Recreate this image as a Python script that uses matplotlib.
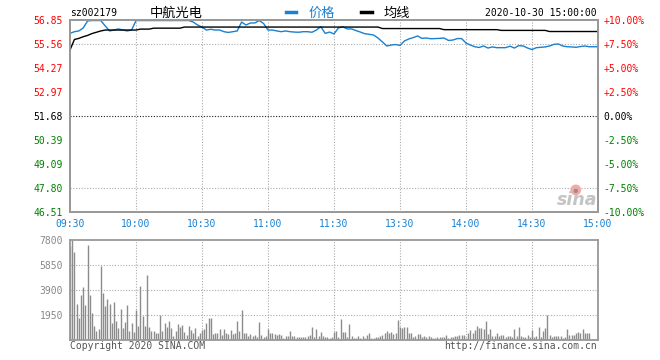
import numpy as np
import matplotlib
matplotlib.use('Agg')
import matplotlib.pyplot as plt

plt.rcParams['font.family'] = ['DejaVu Sans Mono', 'Noto Sans CJK SC']

# price every 2 minutes, 09:30 .. 11:30 | 13:00 .. 15:00 (241 minute slots)
price = [
    56.13, 56.22, 56.26, 56.42, 56.80, 56.82, 56.82, 56.82, 56.53, 56.26,
    56.31, 56.37, 56.31, 56.26, 56.31, 56.82, 56.82, 56.82, 56.82, 56.82,
    56.82, 56.82, 56.82, 56.82, 56.82, 56.82, 56.82, 56.82, 56.74, 56.58,
    56.47, 56.31, 56.35, 56.31, 56.31, 56.22, 56.18, 56.22, 56.26, 56.74,
    56.58, 56.69, 56.69, 56.82, 56.66, 56.31, 56.31, 56.26, 56.22, 56.26,
    56.22, 56.20, 56.19, 56.22, 56.22, 56.19, 56.31, 56.49, 56.13, 56.20,
    56.10, 56.42, 56.49, 56.37, 56.37, 56.28, 56.20, 56.11, 56.08, 56.04,
    55.88, 55.67, 55.45, 55.50, 55.53, 55.48, 55.72, 55.83, 55.90, 55.99,
    55.86, 55.88, 55.84, 55.85, 55.86, 55.88, 55.75, 55.77, 55.85, 55.85,
    55.61, 55.50, 55.41, 55.37, 55.45, 55.34, 55.40, 55.36, 55.36, 55.36,
    55.44, 55.34, 55.47, 55.45, 55.34, 55.26, 55.36, 55.38, 55.40, 55.45,
    55.54, 55.56, 55.45, 55.41, 55.40, 55.38, 55.42, 55.45, 55.41, 55.41,
    55.41,
]

avg_price = [
    55.23, 55.80, 55.86, 55.95, 56.02, 56.12, 56.19, 56.26, 56.31, 56.31,
    56.31, 56.31, 56.31, 56.31, 56.31, 56.31, 56.36, 56.36, 56.36, 56.41,
    56.41, 56.41, 56.41, 56.41, 56.41, 56.41, 56.47, 56.47, 56.47, 56.47,
    56.47, 56.47, 56.47, 56.47, 56.47, 56.47, 56.47, 56.47, 56.47, 56.47,
    56.47, 56.47, 56.47, 56.47, 56.47, 56.47, 56.47, 56.47, 56.47, 56.47,
    56.47, 56.47, 56.47, 56.47, 56.47, 56.47, 56.47, 56.47, 56.47, 56.47,
    56.47, 56.47, 56.47, 56.47, 56.47, 56.47, 56.47, 56.47, 56.47, 56.47,
    56.47, 56.39, 56.39, 56.39, 56.39, 56.39, 56.39, 56.39, 56.39, 56.39,
    56.39, 56.39, 56.39, 56.39, 56.39, 56.33, 56.33, 56.33, 56.33, 56.33,
    56.33, 56.33, 56.33, 56.33, 56.33, 56.33, 56.33, 56.33, 56.29, 56.29,
    56.29, 56.29, 56.29, 56.29, 56.29, 56.29, 56.29, 56.29, 56.29, 56.23,
    56.23, 56.23, 56.23, 56.23, 56.23, 56.23, 56.23, 56.23, 56.23, 56.23,
    56.23,
]

# per-minute volume (lots)
vol_am = [
    7350, 7800, 6864, 2808, 1716, 3510, 4108, 2730, 7410, 3510,
    2132, 1092, 728, 858, 5772, 3692, 2652, 3198, 2808, 1352,
    2990, 1508, 962, 2418, 962, 1430, 2730, 728, 1352, 650,
    2340, 1092, 4212, 1872, 1092, 5070, 1040, 728, 728, 572,
    572, 1950, 728, 1352, 1040, 1508, 962, 312, 728, 1248,
    1040, 1170, 650, 390, 1092, 780, 572, 962, 312, 520,
    780, 858, 1352, 1742, 1742, 468, 572, 520, 832, 390,
    858, 572, 468, 780, 468, 572, 1508, 728, 2340, 520,
    520, 312, 468, 312, 390, 208, 1430, 390, 208, 312,
    858, 572, 520, 468, 390, 468, 390, 130, 312, 312,
    728, 312, 312, 260, 260, 260, 260, 260, 312, 390,
    988, 260, 858, 312, 650, 312, 260, 208, 130, 208,
]
vol_pm = [
    650, 728, 208, 1612, 598, 598, 260, 1222, 312, 130,
    182, 312, 130, 312, 130, 390, 572, 182, 130, 260,
    208, 312, 390, 572, 728, 572, 650, 468, 572, 1560,
    988, 962, 1040, 988, 572, 572, 260, 312, 468, 468,
    208, 312, 260, 312, 260, 130, 130, 208, 208, 260,
    208, 364, 130, 208, 208, 312, 312, 390, 390, 390,
    130, 520, 780, 520, 780, 1092, 962, 962, 832, 1508,
    468, 884, 312, 312, 572, 312, 390, 364, 208, 312,
    312, 208, 858, 312, 1014, 312, 208, 208,
    364, 260, 780, 208, 312, 1040, 260, 728, 936, 1950,
    390, 208, 312, 312, 312, 312, 130, 260, 858, 390,
    390, 390, 520, 598, 520, 858, 520, 520, 520,
]

prev_close = 51.68
price_ticks = [56.85, 55.56, 54.27, 52.97, 51.68, 50.39, 49.09, 47.80, 46.51]
pct_labels = ['+10.00%', '+7.50%', '+5.00%', '+2.50%', '0.00%',
              '-2.50%', '-5.00%', '-7.50%', '-10.00%']
time_labels = ['09:30', '10:00', '10:30', '11:00', '11:30',
               '13:30', '14:00', '14:30', '15:00']
vol_ticks = [1950, 3900, 5850, 7800]

assert len(price) == 121 and len(avg_price) == 121

RED, GREEN, BLUE = '#ff0000', '#008000', '#1a80d0'
FRAME, GRID = '#999999', '#aaaaaa'
DOT = (0, (1, 1.5))

fig = plt.figure(figsize=(6.6, 3.6), dpi=100)
ax = fig.add_axes([70/660, 1-212/360, 528/660, 192/360])
axv = fig.add_axes([70/660, 1-340/360, 528/660, 100/360])

mins = np.arange(0, 241, 2)
l_price, = ax.plot(mins, price, color=BLUE, lw=1.0, zorder=3)
l_avg, = ax.plot(mins, avg_price, color='black', lw=1.0, zorder=3)

ax.set_xlim(0, 240)
ax.set_ylim(price_ticks[-1], price_ticks[0])
ax.set_yticks(price_ticks)
ax.set_yticklabels([f'{v:.2f}' for v in price_ticks])
tick_colors = [RED if v > prev_close + 0.01 else GREEN if v < prev_close - 0.01 else 'black'
               for v in price_ticks]
for lab, c in zip(ax.get_yticklabels(), tick_colors):
    lab.set_color(c)

ax2 = ax.twinx()
ax2.set_ylim(ax.get_ylim())
ax2.set_yticks(price_ticks)
ax2.set_yticklabels(pct_labels)
for lab, c in zip(ax2.get_yticklabels(), tick_colors):
    lab.set_color(c)

ax.set_xticks(np.arange(0, 241, 30))
ax.set_xticklabels(time_labels, color=BLUE)

for a in (ax, ax2):
    a.tick_params(length=0, labelsize=7)
ax.tick_params(axis='y', pad=5)
ax.tick_params(axis='x', pad=5)
ax2.tick_params(axis='y', pad=4)

for t in range(30, 240, 30):
    ax.axvline(t, color=GRID, lw=0.8, ls=DOT, zorder=1)
    axv.axvline(t, color=GRID, lw=0.8, ls=DOT, zorder=1)
for v in (price_ticks[1], price_ticks[-2]):
    ax.axhline(v, color=GRID, lw=0.8, ls=DOT, zorder=1)
ax.axhline(prev_close, color='#222222', lw=0.8, ls=DOT, zorder=1)

# volume panel
axv.vlines(np.arange(len(vol_am)), 0, vol_am, color='#8c8c8c', lw=1.0, zorder=2)
axv.vlines(120 + np.arange(len(vol_pm)), 0, vol_pm, color='#8c8c8c', lw=1.0, zorder=2)
axv.set_xlim(0, 240)
axv.set_ylim(0, 7800)
axv.set_xticks([])
axv.set_yticks(vol_ticks)
axv.set_yticklabels([str(v) for v in vol_ticks], color='#888888')
axv.tick_params(length=0, labelsize=7, pad=5)
for v in vol_ticks[:-1]:
    axv.axhline(v, color=GRID, lw=0.8, ls=DOT, zorder=1)

for a in (ax, ax2, axv):
    for s in a.spines.values():
        s.set_color(FRAME)
        s.set_linewidth(1.3)

# sina watermark
ax.text(0.999, 0.015, 'sina', transform=ax.transAxes, ha='right', va='bottom',
        fontsize=12.5, fontweight='bold', style='italic', color='#c4c4c4',
        family='DejaVu Sans', zorder=2)
ax.scatter([0.958], [0.115], transform=ax.transAxes, s=60, color='#f4a8a8',
           edgecolors='none', zorder=2)
ax.scatter([0.958], [0.11], transform=ax.transAxes, s=10, color='#909090',
           edgecolors='none', zorder=2)

# header
fig.text(70/660, 1-13/360, 'sz002179', fontsize=7, va='center', ha='left')
fig.text(150/660, 1-13/360, '中航光电', fontsize=9.5, va='center', ha='left',
         family=['Noto Sans CJK SC', 'DejaVu Sans'])
fig.text(597/660, 1-13/360, '2020-10-30 15:00:00', fontsize=7, va='center', ha='right')

leg = fig.legend([l_price, l_avg], ['价格', '均线'], loc='center',
                 bbox_to_anchor=(348/660, 1-13/360), ncol=2, frameon=False,
                 handlelength=0.8, handletextpad=0.9, columnspacing=2.0,
                 prop={'family': ['Noto Sans CJK SC', 'DejaVu Sans'], 'size': 9.5})
for h in leg.legend_handles:
    h.set_linewidth(2.5)
leg.get_texts()[0].set_color(BLUE)

# footer
fig.text(70/660, 1-346/360, 'Copyright 2020 SINA.COM', fontsize=7, color='#555555',
         va='center', ha='left')
fig.text(597/660, 1-346/360, 'http://finance.sina.com.cn', fontsize=7, color='#555555',
         va='center', ha='right')

fig.savefig('out.png', dpi=100)
